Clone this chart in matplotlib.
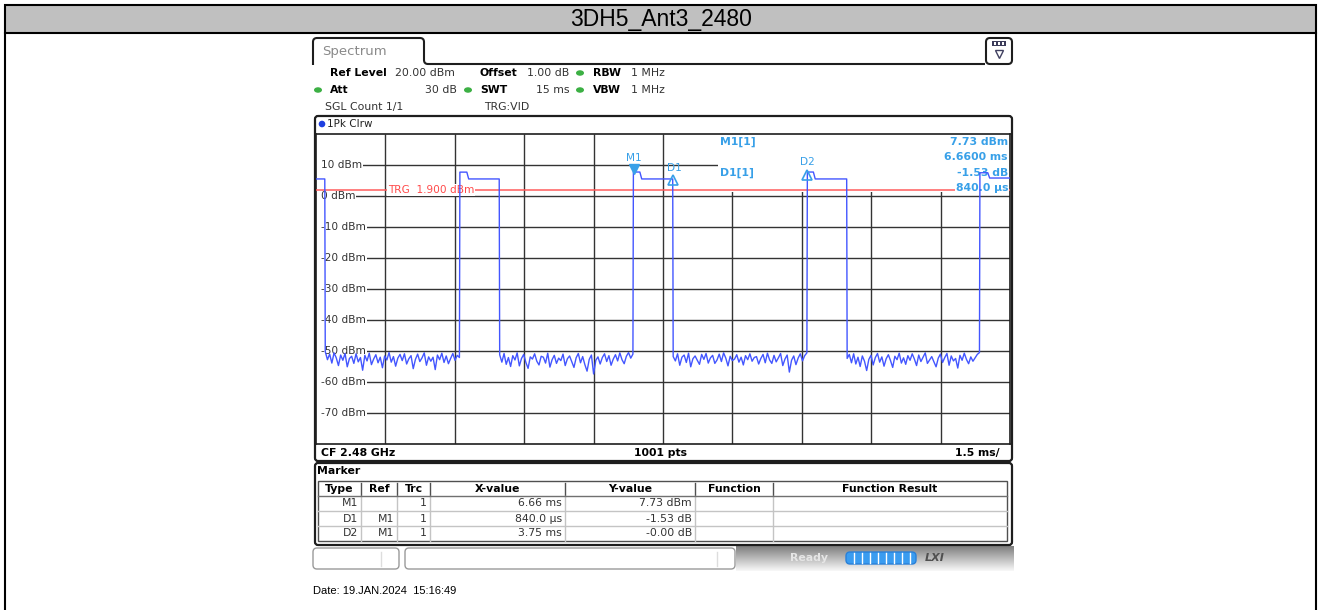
import numpy as np
import matplotlib.pyplot as plt
import matplotlib.transforms as mtransforms
from matplotlib.patches import Rectangle, FancyBboxPatch, Ellipse, Circle, PathPatch
from matplotlib.path import Path

plt.rcParams['font.family'] = ['DejaVu Sans']

# ---- data ----
title = "3DH5_Ant3_2480"
date_text = "Date: 19.JAN.2024  15:16:49"

sweep_ms = 15.0
ref_level = 20.0
bottom_level = -80.0
level_ticks = [10, 0, -10, -20, -30, -40, -50, -60, -70]
level_labels = ["10 dBm", "0 dBm", "-10 dBm", "-20 dBm", "-30 dBm",
                "-40 dBm", "-50 dBm", "-60 dBm", "-70 dBm"]
trg_level = 1.9

# bursts (ms / dBm)
first_burst_end = 0.19
first_burst_level = 5.5
burst_rise = [3.11, 6.86, 10.62, 14.35]
spike_end = [3.26, 7.00, 10.75, 14.52]
burst_fall = [3.96, 7.71, 11.47, 15.0]
spike_level = [7.7, 7.73, 7.73, 7.5]
plateau_level = [5.5, 5.5, 5.5, 5.8]

# noise floor between the bursts (dBm)
noise_gap1 = [-50.2, -52.8, -51.0, -53.9, -50.6, -52.2, -54.7, -51.3, -53.0, -50.8,
              -55.1, -52.4, -51.7, -54.0, -50.9, -53.5, -52.1, -56.2, -51.4, -53.2,
              -50.7, -54.4, -52.6, -51.2, -53.8, -52.0, -55.4, -51.6, -52.9, -50.5,
              -53.6, -51.8, -54.9, -52.3, -51.1, -53.1, -50.9, -54.2, -52.5, -51.5,
              -55.7, -52.7, -51.0, -53.4, -52.2, -50.6, -54.6, -51.9, -53.3, -52.0,
              -56.0, -51.3, -52.8, -50.7, -53.7, -51.6, -54.1, -52.4, -50.8, -53.0,
              -51.4, -52.1]
noise_gap2 = [-51.2, -53.6, -50.8, -54.3, -52.1, -55.0, -51.5, -52.9, -50.6, -54.8,
              -52.4, -51.1, -53.7, -55.6, -51.9, -52.6, -50.9, -53.3, -54.5, -51.7,
              -52.0, -53.9, -50.7, -55.2, -52.8, -51.4, -54.0, -52.3, -53.1, -51.0,
              -54.7, -52.5, -51.6, -53.5, -55.3, -52.2, -50.8, -53.8, -51.8, -54.4,
              -56.5, -52.7, -51.3, -57.4, -53.0, -51.9, -54.2, -52.1, -50.9, -53.4,
              -51.5, -54.6, -52.6, -51.2, -53.2, -50.6, -52.8, -54.1, -51.7, -50.5,
              -52.3, -51.0]
noise_gap3 = [-51.8, -53.2, -50.9, -54.6, -52.0, -51.3, -53.7, -50.7, -55.1, -52.5,
              -51.6, -53.0, -54.3, -51.1, -52.7, -50.8, -53.9, -52.2, -51.4, -54.0,
              -52.9, -51.0, -53.4, -50.6, -52.3, -54.8, -51.7, -53.1, -52.6, -51.2,
              -53.6, -52.0, -54.5, -51.5, -52.8, -50.9, -53.3, -52.1, -51.8, -54.2,
              -52.4, -51.1, -53.8, -50.7, -52.9, -54.0, -51.4, -53.5, -52.2, -50.8,
              -54.7, -52.6, -51.3, -56.8, -53.0, -51.6, -54.4, -52.3, -50.9, -53.2,
              -51.5, -50.6]
noise_gap4 = [-52.4, -51.1, -53.8, -50.9, -54.2, -52.0, -55.0, -51.6, -53.3, -56.3,
              -52.7, -51.4, -54.5, -52.1, -50.8, -53.6, -51.9, -54.9, -52.5, -51.2,
              -53.1, -55.3, -51.7, -52.8, -50.7, -53.9, -52.2, -54.3, -51.5, -53.0,
              -50.9, -52.6, -54.7, -51.3, -53.4, -52.0, -50.6, -54.0, -52.9, -51.8,
              -53.5, -55.1, -52.3, -51.0, -53.7, -52.1, -50.8, -54.6, -51.6, -53.2,
              -52.4, -55.5, -51.4, -53.0, -50.7, -52.7, -54.1, -51.9, -53.3, -52.2,
              -51.1, -50.5]

# markers
marker_names = ["M1", "D1", "D2"]
marker_t = [6.87, 7.71, 10.62]
marker_level = [7.73, 6.2, 7.73]

# marker table
table_cols = ["Type", "Ref", "Trc", "X-value", "Y-value", "Function", "Function Result"]
table_rows = [["M1", "", "1", "6.66 ms", "7.73 dBm", "", ""],
              ["D1", "M1", "1", "840.0 \u00b5s", "-1.53 dB", "", ""],
              ["D2", "M1", "1", "3.75 ms", "-0.00 dB", "", ""]]

# ---- build trace ----
t = [0.0, first_burst_end]
y = [first_burst_level, first_burst_level]
gaps = [noise_gap1, noise_gap2, noise_gap3, noise_gap4]
gap_start = [first_burst_end] + burst_fall[:-1]
for i in range(len(burst_rise)):
    nt = np.linspace(gap_start[i] + 0.01, burst_rise[i] - 0.01, len(gaps[i]))
    t += list(nt)
    y += gaps[i]
    t += [burst_rise[i], spike_end[i], spike_end[i] + 0.04, burst_fall[i]]
    y += [spike_level[i], spike_level[i], plateau_level[i], plateau_level[i]]

W, H = 1322, 610
lblue = '#38a0e8'
trace_c = '#4356ff'
dark = '#1e1e1e'

fig = plt.figure(figsize=(W / 100, H / 100), dpi=100)
ui = fig.add_axes([0, 0, 1, 1])
ui.axis('off')
px = ui.transData

# outer frame + title bar
ui.add_patch(Rectangle((5, 5), 1311, 28, fc='#c0c0c0', ec='black', lw=1.5))
ui.plot([5, 5], [33, 612], color='black', lw=1.5)
ui.plot([1316, 1316], [33, 612], color='black', lw=1.5)
ui.text(661, 19.5, title, family='Liberation Sans', fontsize=16.5, ha='center', va='center')

# spectrum tab
verts = [(313, 65), (313, 42), (313, 38), (317, 38), (420, 38), (424, 38), (424, 42),
         (424, 60), (424, 64), (428, 64), (985, 64)]
codes = [Path.MOVETO, Path.LINETO, Path.CURVE3, Path.CURVE3, Path.LINETO, Path.CURVE3,
         Path.CURVE3, Path.LINETO, Path.CURVE3, Path.CURVE3, Path.LINETO]
ui.add_patch(PathPatch(Path(verts, codes), fill=False, ec=dark, lw=1.5))
ui.text(322, 51, "Spectrum", fontsize=9.5, color='#8a8a8a', va='center')
ui.add_patch(FancyBboxPatch((986, 38), 26, 26, boxstyle='round,pad=0,rounding_size=4',
                            fc='white', ec=dark, lw=1.5))
ui.add_patch(Rectangle((992, 41), 14, 5, fc='#3c3c5a', ec='none'))
for xx in [994, 998, 1002]:
    ui.add_patch(Rectangle((xx, 42.3), 2.4, 2.4, fc='white', ec='none'))
ui.plot(999, 54, marker='v', ms=6, mfc='none', mec='#404060', mew=1)

# settings rows
fs = 7.8
ui.text(330, 73, "Ref Level", fontsize=fs, weight='bold', va='center')
ui.text(395, 73, "20.00 dBm", fontsize=fs, va='center', color='#333333')
ui.text(480, 73, "Offset", fontsize=fs, weight='bold', va='center')
ui.text(527, 73, "1.00 dB", fontsize=fs, va='center', color='#333333')
ui.text(593, 73, "RBW", fontsize=fs, weight='bold', va='center')
ui.text(631, 73, "1 MHz", fontsize=fs, va='center', color='#333333')
ui.text(330, 90, "Att", fontsize=fs, weight='bold', va='center')
ui.text(457, 90, "30 dB", fontsize=fs, va='center', ha='right', color='#333333')
ui.text(480, 90, "SWT", fontsize=fs, weight='bold', va='center')
ui.text(569, 90, "15 ms", fontsize=fs, va='center', ha='right', color='#333333')
ui.text(593, 90, "VBW", fontsize=fs, weight='bold', va='center')
ui.text(631, 90, "1 MHz", fontsize=fs, va='center', color='#333333')
ui.text(325, 107, "SGL Count 1/1", fontsize=fs, va='center', color='#333333')
ui.text(484, 107, "TRG:VID", fontsize=fs, va='center', color='#333333')
for gx, gy in [(318, 90), (468, 90), (580, 73), (580, 90)]:
    ui.add_patch(Ellipse((gx, gy), 8, 5.5, fc='#3cb044', ec='none'))

# trace window frame
ui.add_patch(FancyBboxPatch((315, 116), 697, 345, boxstyle='round,pad=0,rounding_size=3',
                            fc='white', ec=dark, lw=1.6))
ui.add_patch(Circle((322, 124), 3.3, fc='#1f3fe0', ec='none'))
ui.text(327, 124, "1Pk Clrw", fontsize=7.5, va='center', color='#222222')
ui.text(321, 453, "CF 2.48 GHz", fontsize=fs, weight='bold', va='center')
ui.text(661, 453, "1001 pts", fontsize=fs, weight='bold', va='center', ha='center')
ui.text(1000, 453, "1.5 ms/", fontsize=fs, weight='bold', va='center', ha='right')

# marker table window
ui.add_patch(FancyBboxPatch((315, 463), 697, 82, boxstyle='round,pad=0,rounding_size=3',
                            fc='white', ec=dark, lw=1.6))
ui.text(317, 471, "Marker", fontsize=fs, weight='bold', va='center')
col_x = [318, 361, 397, 430, 565, 695, 773, 1007]
row_y = [481, 496, 511, 526, 541]
for j, c in enumerate(table_cols):
    ui.text((col_x[j] + col_x[j + 1]) / 2, 489, c, fontsize=fs, weight='bold',
            ha='center', va='center')
for i, row in enumerate(table_rows):
    for j, v in enumerate(row):
        if v:
            ui.text(col_x[j + 1] - 3, (row_y[i + 1] + row_y[i + 2]) / 2, v, fontsize=fs,
                    ha='right', va='center', color='#333333')
for yy in row_y[2:-1]:
    ui.plot([col_x[0], col_x[-1]], [yy, yy], color='#c4c4c4', lw=1)
for xx in col_x[1:-1]:
    ui.plot([xx, xx], [row_y[0] + 2, row_y[1]], color='#505050', lw=1)
    ui.plot([xx, xx], [row_y[1], row_y[-1]], color='#c4c4c4', lw=1)
ui.plot([col_x[0], col_x[-1]], [row_y[1], row_y[1]], color='#707070', lw=1)
ui.add_patch(Rectangle((col_x[0], row_y[0]), col_x[-1] - col_x[0], row_y[-1] - row_y[0],
                       fc='none', ec='#505050', lw=1))

# status bar
grad = np.linspace(0.50, 0.97, 30)[:, None, None] * np.ones((30, 1, 3))
ui.imshow(grad, extent=(736, 1014, 571, 546), aspect='auto', zorder=0)
ui.add_patch(FancyBboxPatch((313, 548), 86, 21, boxstyle='round,pad=0,rounding_size=4',
                            fc='white', ec='#9a9a9a', lw=1))
ui.plot([381, 381], [552, 566], color='#dddddd', lw=1)
ui.add_patch(FancyBboxPatch((405, 548), 330, 21, boxstyle='round,pad=0,rounding_size=4',
                            fc='white', ec='#9a9a9a', lw=1))
ui.plot([717, 717], [552, 566], color='#dddddd', lw=1)
ui.text(790, 558, "Ready", fontsize=fs, weight='bold', color='#e6e6e6', va='center')
ui.add_patch(FancyBboxPatch((846, 552), 70, 12, boxstyle='round,pad=0,rounding_size=4',
                            fc='#3a9cf0', ec='#2a80d8', lw=1))
for xx in np.arange(854, 916, 8):
    ui.plot([xx, xx], [553, 563], color='white', lw=1)
ui.text(935, 558, "LXI", fontsize=8, weight='bold', style='italic', color='#505050',
        ha='center', va='center')

ui.text(313, 591, date_text, family='Liberation Sans', fontsize=8, va='center')

ui.set_xlim(0, W)
ui.set_ylim(H, 0)

# ---- graticule ----
gx0, gx1, gy0, gy1 = 316, 1010, 134, 444
ax = fig.add_axes([gx0 / W, 1 - gy1 / H, (gx1 - gx0) / W, (gy1 - gy0) / H])
ax.set_xlim(0, sweep_ms)
ax.set_ylim(bottom_level, ref_level)
ax.set_xticks([])
ax.set_yticks([])
for s in ax.spines.values():
    s.set_color(dark)
    s.set_linewidth(1.2)

ylab_tr = mtransforms.blended_transform_factory(px, ax.transData)
ax.vlines(np.arange(1, 10) * sweep_ms / 10, bottom_level, ref_level, color='#333333', lw=1, zorder=1)
# level lines start right of the labels
ax.hlines(level_ticks, 320, gx1, transform=ylab_tr, color='#333333', lw=1, zorder=1)

# marker info box hides the grid top right
ax.add_patch(Rectangle((718, 134), 292, 58, transform=px, fc='white', ec='none', zorder=2))

for lv, lb in zip(level_ticks, level_labels):
    ax.text(321, lv, lb, transform=ylab_tr, fontsize=7.6, color='#333333', va='center',
            bbox=dict(fc='white', ec='none', pad=0.6), zorder=3)

ax.axhline(trg_level, color='#ff5c5c', lw=1.1, zorder=3)
ax.text(388, trg_level, "TRG  1.900 dBm", transform=ylab_tr, fontsize=7.6, color='#ff4a4a',
        va='center', bbox=dict(fc='white', ec='none', pad=0.6), zorder=4)

bold_kw = dict(transform=px, fontsize=7.8, weight='bold', color=lblue, va='center', zorder=4)
ax.text(720, 142, "M1[1]", **bold_kw)
ax.text(1008, 142, "7.73 dBm", ha='right', **bold_kw)
ax.text(1008, 157, "6.6600 ms", ha='right', **bold_kw)
ax.text(720, 173, "D1[1]", **bold_kw)
ax.text(1008, 173, "-1.53 dB", ha='right', **bold_kw)
ax.text(1008, 188, "840.0 \u00b5s", ha='right', bbox=dict(fc='white', ec='none', pad=0.5), **bold_kw)

ax.plot(t, y, color=trace_c, lw=1, zorder=5)

# markers
down = mtransforms.offset_copy(ax.transData, fig=fig, x=0, y=3, units='dots')
up = mtransforms.offset_copy(ax.transData, fig=fig, x=0, y=-3, units='dots')
label_off = [(0, 10), (1, 6), (0, 7)]
for k, name in enumerate(marker_names):
    if name == "M1":
        ax.plot(marker_t[k], marker_level[k], marker='v', ms=7, color=lblue, transform=down, zorder=6)
    else:
        ax.plot(marker_t[k], marker_level[k], marker='^', ms=7, mfc='none', mec=lblue, mew=1.2,
                transform=up, zorder=6)
    ax.annotate(name, (marker_t[k], marker_level[k]), xytext=label_off[k], textcoords='offset points',
                fontsize=7.6, color=lblue, ha='center', va='center', zorder=6)

fig.savefig('out.png', dpi=100)
